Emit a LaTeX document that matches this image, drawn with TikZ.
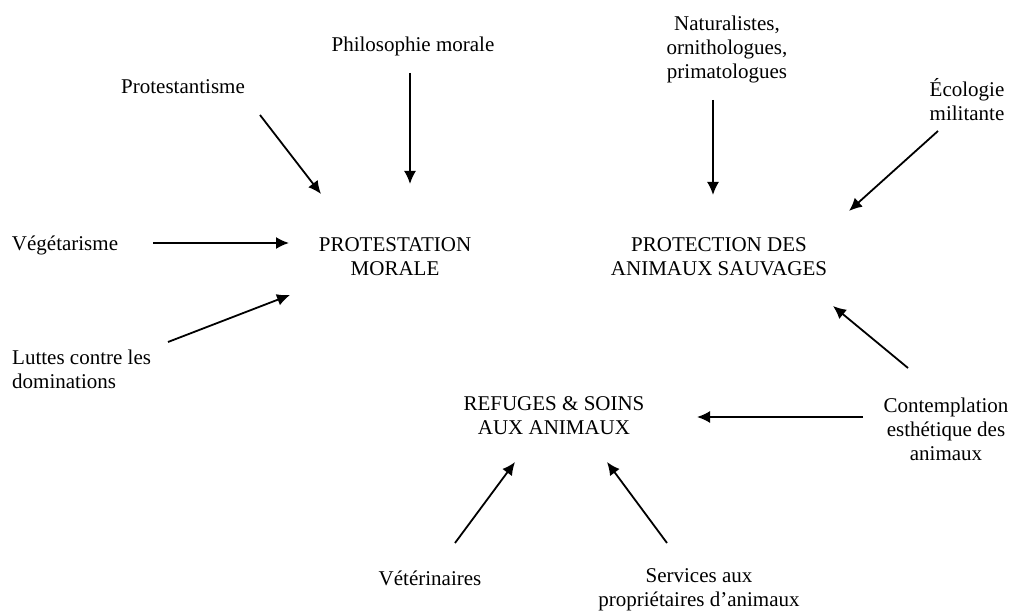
\documentclass[tikz,border=0pt]{standalone}
\usepackage{fontspec}
\setmainfont{Liberation Serif}
\usepackage{tikz}
\usetikzlibrary{arrows.meta,positioning}
\tikzset{%
	concept/.style = {align=center, inner sep=0pt, font=\fontsize{21}{24}\selectfont},
	source/.style  = {concept},
	arrow/.style   = {line width=1.8pt, -{Latex[length=13pt,width=12pt]}},
}

\begin{document}
\begin{tikzpicture}[x=1pt,y=-1pt]
	
	\fill[white] (0,0) rectangle (1012,611);  % page
	
	% three poles
	\node[concept] (morale)   at (395,257) {PROTESTATION\\MORALE};
	\node[concept] (sauvages) at (719,257) {PROTECTION DES\\ANIMAUX SAUVAGES};
	\node[concept] (refuges)  at (554,416) {REFUGES \& SOINS\\AUX ANIMAUX};
	
	% sources
	\node[source] (philo)    at (413,46) {Philosophie morale};
	\node[source] (protest)  at (183,87) {Protestantisme};
	\node[source] (vege)     at (65,245) {Végétarisme};
	\node[source,anchor=west,align=left] (luttes) at (12,369) {Luttes contre les\\dominations};
	\node[source] (natur)    at (727,49) {Naturalistes,\\ornithologues,\\primatologues};
	\node[source] (ecolo)    at (967,100) {Écologie\\militante};
	\node[source] (contempl) at (946,429) {Contemplation\\esthétique des\\animaux};
	\node[source] (veto)     at (430,578) {Vétérinaires};
	\node[source] (services) at (699,590) {Services aux\\propriétaires d’animaux};
	
	% arrow ends
	\coordinate (philo-a)   at (410,73);   \coordinate (philo-b)   at (410,184);
	\coordinate (protest-a) at (260,115);  \coordinate (protest-b) at (321,194);
	\coordinate (vege-a)    at (153,243);  \coordinate (vege-b)    at (289,243);
	\coordinate (luttes-a)  at (168,342);  \coordinate (luttes-b)  at (290,295);
	\coordinate (natur-a)   at (713,100);  \coordinate (natur-b)   at (713,195);
	\coordinate (ecolo-a)   at (938,131);  \coordinate (ecolo-b)   at (849,211);
	\coordinate (cont-a)    at (908,368);  \coordinate (cont-b)    at (833,306);
	\coordinate (cont-c)    at (863,417);  \coordinate (cont-d)    at (697,417);
	\coordinate (veto-a)    at (455,543);  \coordinate (veto-b)    at (515,462);
	\coordinate (serv-a)    at (667,543);  \coordinate (serv-b)    at (607,462);
	
	\draw[arrow] (philo-a) -- (philo-b);
	\draw[arrow] (protest-a) -- (protest-b);
	\draw[arrow] (vege-a) -- (vege-b);
	\draw[arrow] (luttes-a) -- (luttes-b);
	\draw[arrow] (natur-a) -- (natur-b);
	\draw[arrow] (ecolo-a) -- (ecolo-b);
	\draw[arrow] (cont-a) -- (cont-b);
	\draw[arrow] (cont-c) -- (cont-d);
	\draw[arrow] (veto-a) -- (veto-b);
	\draw[arrow] (serv-a) -- (serv-b);
	
\end{tikzpicture}
\end{document}
